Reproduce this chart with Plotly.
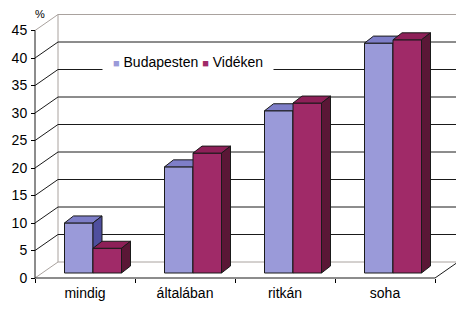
import plotly.graph_objects as go

# ---------------- data ----------------
categories = ["mindig", "általában", "ritkán", "soha"]
series_names = ["Budapesten", "Vidéken"]
budapesten = [9.1, 19.3, 29.5, 41.8]
videken = [4.5, 21.8, 30.9, 42.4]
y_ticks = [0, 5, 10, 15, 20, 25, 30, 35, 40, 45]

# ---------------- styling / geometry ----------------
FONT = "Liberation Sans, Arial, sans-serif"
FACE_COLORS = [
    {"front": "#9A9AD9", "top": "#7E7EC8", "side": "#4F4F9E"},
    {"front": "#A02A68", "top": "#8E2058", "side": "#5A1736"},
]
EDGE = "#1a1a1a"
GRAY = "#A9A29E"

W, H = 456, 309
ML, MR, MT, MB = 30, 0, 8, 29
PX_X = 100.0   # pixels per category
PX_Y = 5.5     # pixels per percent
plot_w = W - ML - MR
plot_h = H - MT - MB


def ux(px):
    return px / PX_X


def uy(px):
    return px / PX_Y


X_LEFT = -0.5
X_RIGHT = len(categories) - 0.5
x_min = X_LEFT - ux(5)
x_max = x_min + plot_w / PX_X
y_min = -uy(2)
y_max = y_min + plot_h / PX_Y

WALL_DX, WALL_DY = ux(23), uy(16)
BAR_X0, BAR_Y0 = ux(8), uy(5)
BAR_DX, BAR_DY = ux(9), uy(7)
BAR_W = ux(28.5)

fig = go.Figure()


def add_lines(xs, ys, color, width=1):
    fig.add_trace(go.Scatter(x=xs, y=ys, mode="lines",
                             line=dict(color=color, width=width),
                             hoverinfo="skip", showlegend=False))


def add_poly(xs, ys, fill, name=None):
    fig.add_trace(go.Scatter(x=xs + [xs[0]], y=ys + [ys[0]], mode="lines",
                             fill="toself", fillcolor=fill,
                             line=dict(color=EDGE, width=1),
                             hoverinfo="skip" if name is None else "name",
                             name=name or "", showlegend=False))


# back wall + left wall gridlines
top_v = y_ticks[-1]
dark_x, dark_y, gray_x, gray_y = [], [], [], []
for v in y_ticks:
    bx = [X_LEFT + WALL_DX, X_RIGHT + WALL_DX + 1, None]
    by = [v + WALL_DY, v + WALL_DY, None]
    dx_ = [X_LEFT, X_LEFT + WALL_DX, None]
    dy_ = [v, v + WALL_DY, None]
    if v in (y_ticks[0], top_v):
        gray_x += bx + dx_
        gray_y += by + dy_
    else:
        dark_x += bx + dx_
        dark_y += by + dy_
# left-wall back edge
gray_x += [X_LEFT + WALL_DX, X_LEFT + WALL_DX, None]
gray_y += [WALL_DY, top_v + WALL_DY, None]
add_lines(gray_x, gray_y, GRAY)
add_lines(dark_x, dark_y, EDGE)

# floor front and right edge, value axis line
add_lines([X_LEFT, X_RIGHT, X_RIGHT + WALL_DX], [0, 0, WALL_DY], EDGE)
add_lines([X_LEFT, X_LEFT], [0, top_v], EDGE)

# 3D bars
series_values = [budapesten, videken]
for i, cat in enumerate(categories):
    for s, vals in enumerate(series_values):
        v = vals[i]
        c = FACE_COLORS[s]
        x0 = i + BAR_X0 - BAR_W + s * BAR_W
        x1 = x0 + BAR_W
        yb = BAR_Y0
        yt = BAR_Y0 + v
        add_poly([x0, x1, x1, x0], [yb, yb, yt, yt], c["front"],
                 name=f"{series_names[s]} – {cat}: {v}")
        add_poly([x0, x1, x1 + BAR_DX, x0 + BAR_DX],
                 [yt, yt, yt + BAR_DY, yt + BAR_DY], c["top"])
        add_poly([x1, x1 + BAR_DX, x1 + BAR_DX, x1],
                 [yb, yb + BAR_DY, yt + BAR_DY, yt], c["side"])

# legend (drawn as text box over the gridline, like the original)
legend_text = (
    f'<span style="color:{FACE_COLORS[0]["front"]};font-size:11px">■</span> {series_names[0]} '
    f'<span style="color:{FACE_COLORS[1]["front"]};font-size:11px">■</span> {series_names[1]}'
)
fig.add_annotation(text=legend_text, xref="paper", yref="paper",
                   x=(187.5 - ML) / plot_w, y=(H - MB - 62) / plot_h,
                   xanchor="center", yanchor="middle", showarrow=False,
                   bgcolor="white", width=168, height=16, align="center",
                   font=dict(family=FONT, size=14, color="black"))
fig.add_annotation(text="%", xref="paper", yref="paper",
                   x=(40 - ML) / plot_w, y=(H - MB - 14) / plot_h,
                   xanchor="center", yanchor="middle", showarrow=False,
                   font=dict(family=FONT, size=11, color="black"))

fig.update_layout(
    width=W, height=H,
    margin=dict(l=ML, r=MR, t=MT, b=MB, pad=0),
    paper_bgcolor="white", plot_bgcolor="white",
    showlegend=False,
    font=dict(family=FONT, size=14, color="black"),
    xaxis=dict(range=[x_min, x_max], anchor="free",
               position=2 / plot_h,
               tickvals=list(range(len(categories))), ticktext=categories,
               ticks="", showgrid=False, zeroline=False, showline=False,
               ticklabelstandoff=5,
               minor=dict(tickvals=[k - 0.5 for k in range(len(categories) + 1)],
                          ticks="outside", ticklen=4, tickcolor="black",
                          showgrid=False),
               fixedrange=True),
    yaxis=dict(range=[y_min, y_max], anchor="free",
               position=(35 - ML) / plot_w,
               tickvals=y_ticks, ticks="outside", ticklen=4,
               tickcolor="black", showgrid=False, zeroline=False,
               showline=False, ticklabelstandoff=1, fixedrange=True),
)

fig.write_html("out.html", config={"displayModeBar": False},
               post_script="document.body.style.margin='0';"
                           "document.body.style.overflow='hidden';")
